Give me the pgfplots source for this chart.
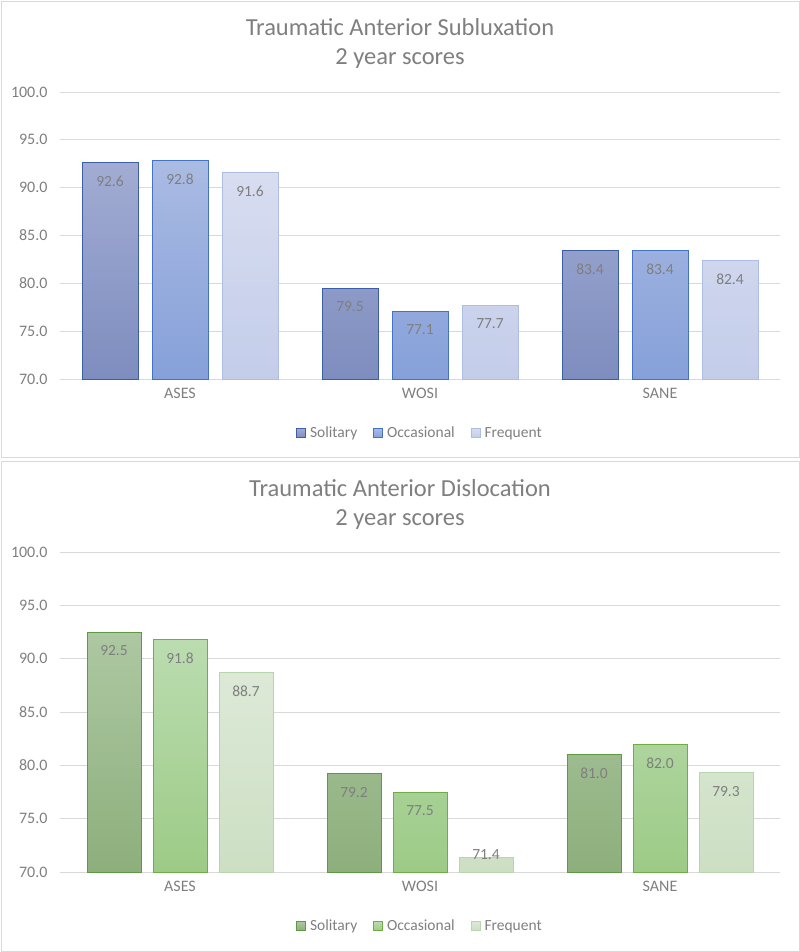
\documentclass[border=0pt]{standalone}
\usepackage{fontspec}
\setmainfont{Carlito}
\usepackage{pgfplots}
\pgfplotsset{compat=1.18}
\definecolor{txt}{HTML}{7F7F7F}
\definecolor{gridc}{HTML}{D9D9D9}
\definecolor{frame}{HTML}{D9D9D9}
% blue
\definecolor{bSt}{HTML}{A2ACD3}\definecolor{bSb}{HTML}{7E8DBF}\definecolor{bSd}{HTML}{3C5DA8}
\definecolor{bOt}{HTML}{AABBE3}\definecolor{bOb}{HTML}{86A0D9}\definecolor{bOd}{HTML}{4472C4}
\definecolor{bFt}{HTML}{D8DDF0}\definecolor{bFb}{HTML}{C3CDEA}\definecolor{bFd}{HTML}{AEBDE2}
% green
\definecolor{gSt}{HTML}{ADC8A2}\definecolor{gSb}{HTML}{8DAF7C}\definecolor{gSd}{HTML}{5E9A43}
\definecolor{gOt}{HTML}{BBDCB0}\definecolor{gOb}{HTML}{9CCB86}\definecolor{gOd}{HTML}{70AD47}
\definecolor{gFt}{HTML}{DCE9D7}\definecolor{gFb}{HTML}{CCDFC3}\definecolor{gFd}{HTML}{B9D5AB}
\pgfplotsset{
  legsq/.style={legend image code/.code={\draw[##1, line width=0.8bp] (0bp,-4.5bp) rectangle (9bp,4.5bp);}},
  panel/.style={
    scale only axis, width=720bp,
    xmin=-0.5, xmax=2.5, ymin=70, ymax=100,
    xtick={0,1,2}, xticklabels={ASES,WOSI,SANE},
    ytick={70,75,...,100},
    /pgf/number format/fixed, /pgf/number format/fixed zerofill, /pgf/number format/precision=1,
    /pgf/number format/assume math mode=true,
    ticklabel style={font=\fontsize{16bp}{18bp}\selectfont, text=txt},
    yticklabel style={xshift=-9bp},
    xticklabel style={yshift=-1bp},
    axis line style={draw=none}, tick style={draw=none},
    ymajorgrids, grid style={gridc, line width=0.8bp},
    clip=false,
    nodes near coords,
    every node near coord/.append style={anchor=north, font=\fontsize{15.5bp}{17bp}\selectfont, text=txt, inner sep=0pt},
    visualization depends on={\thisrow{off}\as\labeloff},
    every node near coord/.append style={yshift=\labeloff bp},
    legend style={draw=none, fill=none, legend columns=3, font=\fontsize{15.5bp}{17bp}\selectfont, text=txt,
      /tikz/every even column/.append style={column sep=14bp},
      /tikz/every odd column/.append style={column sep=2bp}},
  }
}
\begin{document}
\begin{tikzpicture}
\useasboundingbox (0bp,0bp) rectangle (800bp,-952bp);
\draw[frame, line width=1bp] (1bp,-1bp) rectangle (799bp,-457bp);
\draw[frame, line width=1bp] (1bp,-461bp) rectangle (799bp,-951bp);
\node[text=txt, font=\fontsize{24.5bp}{29bp}\selectfont, align=center] at (400bp,-43bp) {Traumatic Anterior Subluxation\\2 year scores};
\node[text=txt, font=\fontsize{24.5bp}{29bp}\selectfont, align=center] at (400bp,-504bp) {Traumatic Anterior Dislocation\\2 year scores};
\begin{axis}[panel, height=287bp, at={(60bp,-379bp)}, anchor=south west,
  ybar=14bp, bar width=56bp,
  legend style={at={(0.5,-54bp)}, anchor=center}]
\addplot[legsq, draw=bSd, line width=1bp, top color=bSt, bottom color=bSb] table {
x y off
0 92.6 -13
1 79.5 -13
2 83.4 -13
};
\addplot[legsq, draw=bOd, line width=1bp, top color=bOt, bottom color=bOb] table {
x y off
0 92.8 -13
1 77.1 -13
2 83.4 -13
};
\addplot[legsq, draw=bFd, line width=1bp, top color=bFt, bottom color=bFb] table {
x y off
0 91.6 -13
1 77.7 -13
2 82.4 -13
};
\legend{Solitary,Occasional,Frequent}
\end{axis}
\begin{axis}[panel, height=320bp, at={(60bp,-872bp)}, anchor=south west,
  ybar=12bp, bar width=54bp,
  legend style={at={(0.5,-54bp)}, anchor=center}]
\addplot[legsq, draw=gSd, line width=1bp, top color=gSt, bottom color=gSb] table {
x y off
0 92.5 -13
1 79.2 -13
2 81.0 -13
};
\addplot[legsq, draw=gOd, line width=1bp, top color=gOt, bottom color=gOb] table {
x y off
0 91.8 -13
1 77.5 -13
2 82.0 -13
};
\addplot[legsq, draw=gFd, line width=1bp, top color=gFt, bottom color=gFb] table {
x y off
0 88.7 -13
1 71.4 8
2 79.3 -13
};
\legend{Solitary,Occasional,Frequent}
\end{axis}
\end{tikzpicture}
\end{document}
